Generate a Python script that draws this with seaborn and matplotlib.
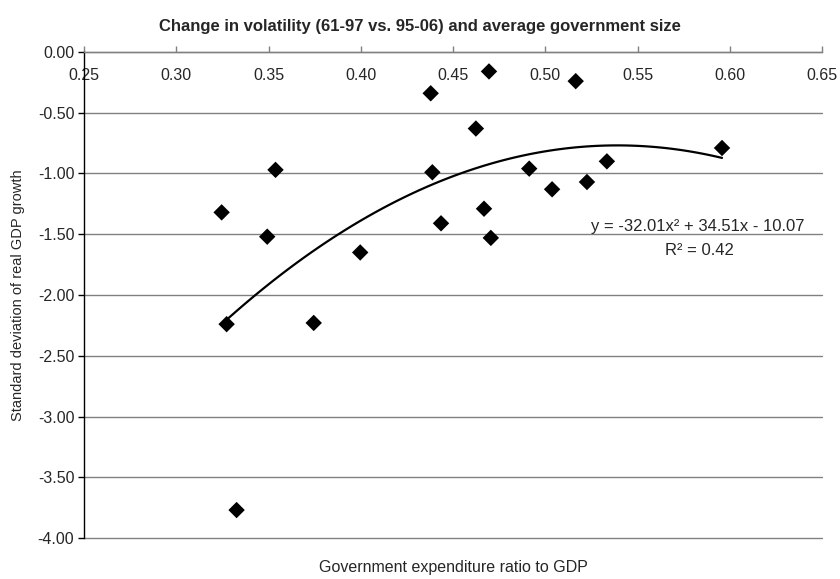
import numpy as np
import pandas as pd
import matplotlib
matplotlib.use('Agg')
import matplotlib.pyplot as plt
import seaborn as sns

# government expenditure ratio to GDP vs change in std dev of real GDP growth
gov_size = [0.3246, 0.3538, 0.3493, 0.3997, 0.3273, 0.3745, 0.3327,
            0.4388, 0.4435, 0.4668, 0.4705, 0.4913, 0.5037, 0.5226,
            0.5334, 0.4379, 0.4695, 0.5165, 0.4624, 0.5958]
vol_change = [-1.32, -0.97, -1.52, -1.65, -2.24, -2.23, -3.77,
              -0.99, -1.41, -1.29, -1.53, -0.96, -1.13, -1.07,
              -0.90, -0.34, -0.16, -0.24, -0.63, -0.79]

# excel trend line (poly order 2)
trend_coef = [-32.01, 34.51, -10.07]
r_squared = 0.42

x_ticks = [0.25, 0.30, 0.35, 0.40, 0.45, 0.50, 0.55, 0.60, 0.65]
y_ticks = [0.0, -0.5, -1.0, -1.5, -2.0, -2.5, -3.0, -3.5, -4.0]

df = pd.DataFrame({'gov': gov_size, 'vol': vol_change})

sns.set_style('white')
plt.rcParams['font.family'] = ['Liberation Sans', 'DejaVu Sans']

fig = plt.figure(figsize=(8.4, 5.79), dpi=100)
ax = fig.add_axes([0.1, 0.0708, 0.8786, 0.8394])

xs = np.linspace(min(gov_size), max(gov_size), 100)
trend = pd.DataFrame({'x': xs, 'y': np.polyval(trend_coef, xs)})
sns.lineplot(data=trend, x='x', y='y', color='black', linewidth=1.6, ax=ax)
sns.scatterplot(data=df, x='gov', y='vol', marker='D', s=70, color='black',
                edgecolor='none', ax=ax, zorder=3)

ax.set_xlim(0.25, 0.65)
ax.set_ylim(-4.0, 0.0)
ax.set_xticks(x_ticks)
ax.set_xticklabels([f'{v:.2f}' for v in x_ticks])
ax.set_yticks(y_ticks)
ax.set_yticklabels([f'{v:.2f}' for v in y_ticks])

for s in ['right', 'bottom']:
    ax.spines[s].set_visible(False)
ax.spines['left'].set_color('black')
ax.spines['left'].set_linewidth(1)
ax.spines['top'].set_color('#808080')
ax.spines['top'].set_linewidth(1)

ax.yaxis.grid(True, color='#808080', linewidth=1)
for gl in ax.get_ygridlines():
    gl.set_clip_on(False)
ax.set_axisbelow(True)

ax.tick_params(axis='x', bottom=False, top=True, labelbottom=False, labeltop=True,
               direction='out', length=4, width=1, color='#808080',
               pad=-26, labelsize=11.5)
ax.tick_params(axis='y', left=True, direction='out', length=4, width=1,
               color='black', labelsize=11.5, pad=3)

ax.set_xlabel('Government expenditure ratio to GDP', fontsize=11.5)
ax.xaxis.set_label_position('bottom')
ax.xaxis.set_label_coords(0.5, -0.045)
ax.set_ylabel('Standard deviation of real GDP growth', fontsize=10.5)
ax.yaxis.set_label_coords(-0.08, 0.5)

fig.text(0.5, 0.955, 'Change in volatility (61-97 vs. 95-06) and average government size',
         ha='center', va='center', fontsize=12, fontweight='bold')

ax.text(0.5824, -1.44, 'y = -32.01x² + 34.51x - 10.07', ha='center', va='center', fontsize=12)
ax.text(0.5835, -1.635, f'R² = {r_squared:.2f}', ha='center', va='center', fontsize=12)

fig.savefig('out.png', dpi=100)
